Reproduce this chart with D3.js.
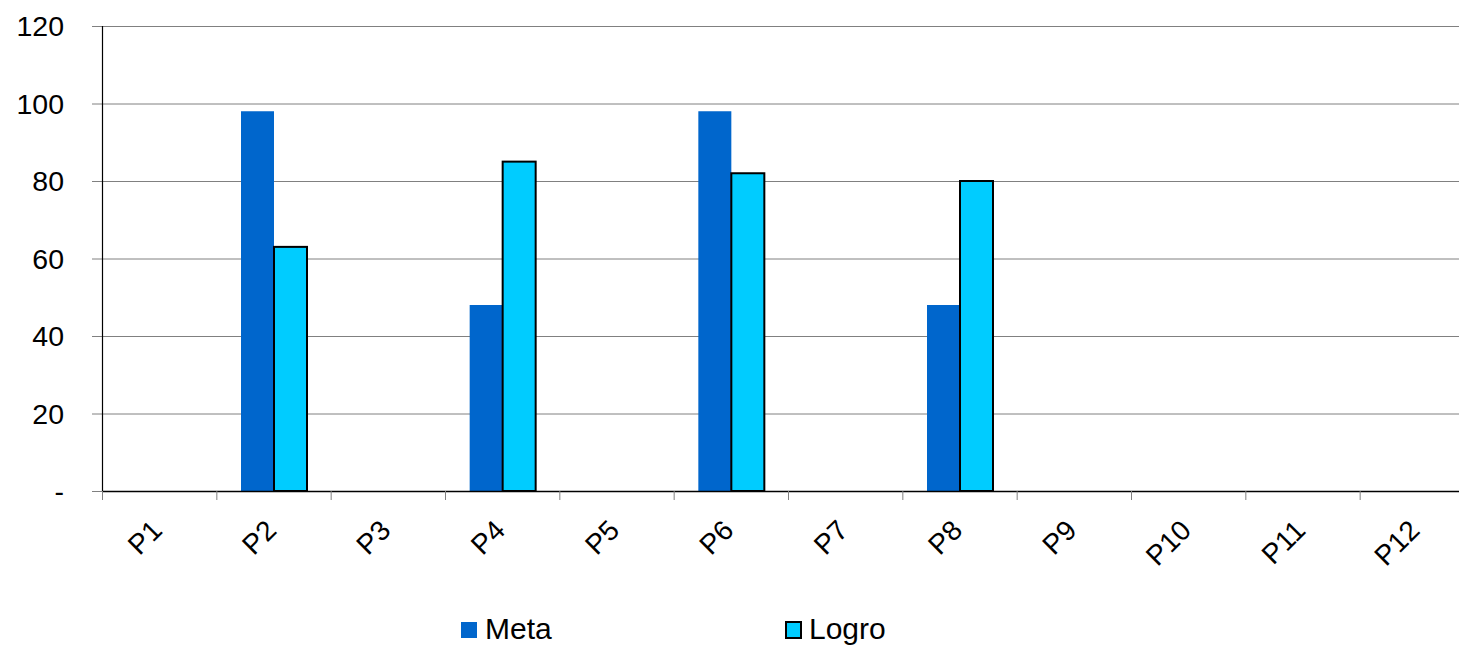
<!DOCTYPE html>
<html>
<head>
<meta charset="utf-8">
<script src="https://cdn.jsdelivr.net/npm/d3@7"></script>
<style>
  html, body { margin: 0; padding: 0; background: #fff; overflow: hidden; }
  svg { display: block; font-family: "Liberation Sans", Arial, sans-serif; }
</style>
</head>
<body>
<svg id="chart" width="1459" height="646"></svg>
<script>
// Periods on the x axis
const periods = ["P1", "P2", "P3", "P4", "P5", "P6", "P7", "P8", "P9", "P10", "P11", "P12"];
// Target per period (null = no value)
const meta = [null, 98, null, 48, null, 98, null, 48, null, null, null, null];
// Achieved per period
const logro = [null, 63, null, 85, null, 82, null, 80, null, null, null, null];
// Y axis ticks
const yTicks = [0, 20, 40, 60, 80, 100, 120];
const seriesNames = ["Meta", "Logro"];

const svg = d3.select("#chart");
// The plot area runs a little past the right edge of the canvas
const plotLeft = 102.5, plotRight = 1474.5;
const plotTop = 26, plotBottom = 491;

const x = d3.scaleBand().domain(periods).range([plotLeft, plotRight]);
const y = d3.scaleLinear().domain([0, 120]).range([plotBottom, plotTop]);
const barW = 33;

const g = svg.append("g");

// Horizontal gridlines with short ticks to the left of the axis
g.append("g")
  .attr("transform", `translate(${plotRight},0)`)
  .call(d3.axisLeft(y).tickValues(yTicks).tickSize(plotRight - 92).tickFormat(""))
  .call(s => s.select(".domain").remove())
  .call(s => s.selectAll("line").attr("stroke", "#808080").attr("stroke-width", 1));

// Y labels
g.append("g").selectAll("text").data(yTicks).join("text")
  .attr("x", 64).attr("y", d => y(d))
  .attr("dy", "0.36em")
  .attr("text-anchor", "end")
  .attr("font-size", 28.5)
  .attr("fill", "#000")
  .text(d => d === 0 ? "-" : d);

// Bars
const seriesData = [meta, logro];
const colors = ["#0066CC", "#00CCFF"];
seriesData.forEach((vals, si) => {
  g.append("g").selectAll("rect")
    .data(periods.map((p, i) => ({ p, v: vals[i] })).filter(d => d.v != null))
    .join("rect")
    .attr("x", d => x(d.p) + x.bandwidth() / 2 - barW + si * barW)
    .attr("y", d => y(d.v))
    .attr("width", barW)
    .attr("height", d => y(0) - y(d.v))
    .attr("fill", colors[si])
    .attr("stroke", si === 1 ? "#000" : "none")
    .attr("stroke-width", si === 1 ? 2 : 0);
});

// Y axis line
g.append("line")
  .attr("x1", plotLeft).attr("x2", plotLeft)
  .attr("y1", y(120)).attr("y2", y(0))
  .attr("stroke", "#000").attr("stroke-width", 1.2);

// X axis with category boundary ticks
const xAxisG = g.append("g");
xAxisG.append("line")
  .attr("x1", plotLeft).attr("x2", plotRight)
  .attr("y1", y(0) + 0.5).attr("y2", y(0) + 0.5)
  .attr("stroke", "#000").attr("stroke-width", 1.5);
xAxisG.selectAll("line.tick").data(periods).join("line")
  .attr("class", "tick")
  .attr("x1", d => x(d)).attr("x2", d => x(d))
  .attr("y1", y(0)).attr("y2", y(0) + 9)
  .attr("stroke", "#808080").attr("stroke-width", 1);
xAxisG.selectAll("text").data(periods).join("text")
  .attr("transform", d => `translate(${x(d) + x.bandwidth() / 2 + 4},${y(0) + 41}) rotate(-45)`)
  .attr("text-anchor", "end")
  .attr("font-size", 28)
  .attr("fill", "#000")
  .text(d => d);

// Legend
const legendX = [461, 785];
const legend = g.append("g");
seriesNames.forEach((name, i) => {
  legend.append("rect")
    .attr("x", legendX[i] + (i === 1 ? 1 : 0)).attr("y", 622)
    .attr("width", i === 1 ? 15 : 16).attr("height", 16)
    .attr("fill", colors[i])
    .attr("stroke", i === 1 ? "#000" : "none")
    .attr("stroke-width", i === 1 ? 2 : 0);
  legend.append("text")
    .attr("x", legendX[i] + 24).attr("y", 639)
    .attr("font-size", 30)
    .attr("fill", "#000")
    .text(name);
});
</script>
</body>
</html>
